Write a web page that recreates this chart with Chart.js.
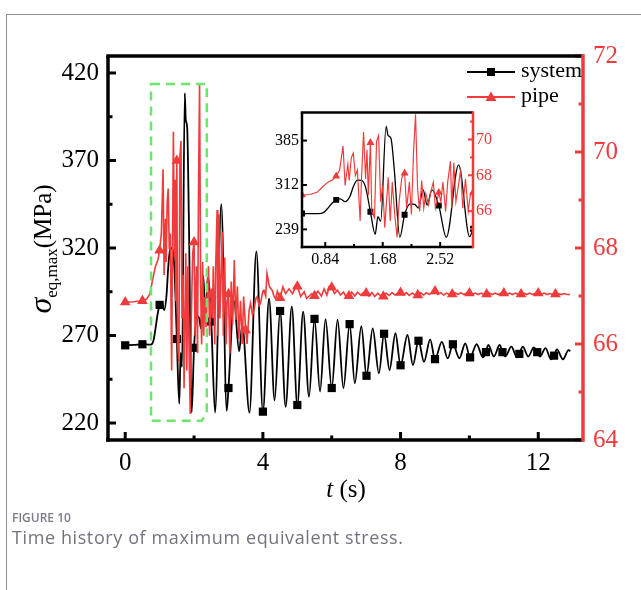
<!DOCTYPE html>
<html>
<head>
<meta charset="utf-8">
<script src="https://cdn.jsdelivr.net/npm/chart.js@4.4.1/dist/chart.umd.min.js"></script>
<style>
  html, body { margin: 0; padding: 0; background: #fff; }
  body { width: 641px; height: 590px; position: relative; overflow: hidden; }
  #frame { position: absolute; left: 6px; top: 14px; width: 700px; height: 700px;
           border-left: 1px solid #8e8ea0; border-top: 1px solid #8e8ea0; }
  #main { position: absolute; left: 0; top: 0; }
  #inset { position: absolute; left: 260px; top: 100px; }
  .fig { position: absolute; left: 12px; top: 509px; font: 600 12px "Open Sans", sans-serif; color: #7b7b88; }
  .cap { position: absolute; left: 12px; top: 525px; font: 400 18px "Open Sans", sans-serif; letter-spacing: 0.6px;
         color: #73737f; white-space: nowrap; }
</style>
</head>
<body>
<div id="frame"></div>
<canvas id="main" width="641" height="520"></canvas>
<canvas id="inset" width="240" height="175"></canvas>
<div class="fig">FIGURE 10</div>
<div class="cap">Time history of maximum equivalent stress.</div>
<script>
// system: maximum equivalent stress (MPa), left axis
const sysT = [0, 0.25, 0.5, 0.74, 0.82, 0.88, 0.94, 1.0, 1.06, 1.13, 1.2, 1.25, 1.31, 1.37, 1.43, 1.5,
  1.57, 1.61, 1.65, 1.73, 1.76, 1.8, 1.85, 1.93, 2.0, 2.08, 2.15, 2.2, 2.27, 2.33, 2.4, 2.5,
  2.61, 2.79, 2.95, 3.0, 3.16, 3.31, 3.4, 3.61, 3.81, 4.0, 4.18, 4.34, 4.5, 4.66, 4.84, 5.0,
  5.17, 5.34, 5.5, 5.66, 5.82, 6.0, 6.17, 6.34, 6.52, 6.67, 6.86, 7.01, 7.19, 7.37, 7.52,
  7.68, 7.85, 8.0, 8.2, 8.36, 8.52, 8.68, 8.86, 9.0, 9.2, 9.37, 9.52, 9.71, 9.88, 10.02,
  10.21, 10.39, 10.48, 10.55, 10.71, 10.88, 10.96, 11.04, 11.22, 11.38, 11.45, 11.55, 11.71,
  11.87, 11.97, 12.05, 12.21, 12.37, 12.46, 12.54, 12.72, 12.88, 12.93];
const sysV = [264.4, 264.6, 265.0, 264.8, 267, 274, 282, 287.5, 289, 284.5, 293, 309, 320, 319.5, 308, 268,
  231, 260, 252, 408.5, 393, 389, 336, 226, 263, 281, 280, 274, 304, 279, 304, 278,
  226, 345, 227, 240, 290, 261, 276, 226, 318, 226.5, 291, 233, 284, 229.3, 286.5, 230.3,
  283.6, 235, 279.5, 238, 279.3, 240, 279, 240, 276.5, 242.7, 275.4, 247, 274, 248.4, 271,
  250.3, 271.3, 253, 270.3, 253.1, 267, 255, 267.8, 256.5, 266.4, 256.9, 265, 257, 265.5, 257.5,
  265, 257.5, 260.5, 264.6, 258, 264.6, 260.5, 258, 263.6, 257.5, 259.5, 263.6, 258,
  263.2, 260.5, 258, 262.8, 256.4, 258.5, 262.1, 256.4, 261.7, 261];
const sysMarkT = [0, 0.5, 1.0, 1.5, 2.0, 2.5, 3.0, 4.0, 4.5, 5.0, 5.5, 6.0, 6.52, 7.01, 7.52, 8.0,
  8.52, 9.0, 9.52, 10.02, 10.48, 10.96, 11.45, 11.97, 12.46];

// pipe: maximum equivalent stress (MPa), right axis
const pipeT = [0, 0.25, 0.5, 0.62, 0.72, 0.8, 0.88, 0.95, 1.0, 1.05, 1.1, 1.13, 1.17, 1.19, 1.22, 1.25,
  1.28, 1.31, 1.35, 1.37, 1.4, 1.43, 1.45, 1.47, 1.5, 1.52, 1.56, 1.59, 1.62, 1.65, 1.68, 1.71,
  1.76, 1.79, 1.82, 1.86, 1.89, 1.92, 1.96, 2.0, 2.03, 2.07, 2.1, 2.13, 2.16, 2.19, 2.22, 2.25,
  2.28, 2.31, 2.35, 2.38, 2.42, 2.45, 2.5, 2.53, 2.56, 2.6, 2.63, 2.67, 2.69, 2.72, 2.75, 2.78,
  2.82, 2.85, 2.89, 2.93, 2.96, 3.0, 3.04, 3.08, 3.12, 3.17, 3.21, 3.26, 3.3, 3.35, 3.4, 3.44,
  3.5, 3.54, 3.6, 3.64, 3.7, 3.74, 3.8, 3.84, 3.89, 3.93, 4.0, 4.03, 4.08, 4.12, 4.19, 4.27,
  4.32, 4.37, 4.42, 4.5, 4.58, 4.66, 4.76, 4.86, 4.93, 5.0, 5.1, 5.2, 5.27, 5.33, 5.42, 5.5,
  5.6, 5.7, 5.78, 5.86, 5.93, 6.0, 6.08, 6.17, 6.25, 6.34, 6.42, 6.5, 6.58, 6.67, 6.75, 6.84,
  6.92, 7.0, 7.08, 7.17, 7.25, 7.34, 7.42, 7.5, 7.58, 7.67, 7.75, 7.84, 7.92, 8.0, 8.08, 8.17,
  8.25, 8.34, 8.42, 8.5, 8.58, 8.67, 8.75, 8.84, 8.92, 9.0, 9.08, 9.17, 9.25, 9.34, 9.42, 9.5,
  9.58, 9.67, 9.75, 9.84, 9.92, 10.0, 10.08, 10.17, 10.25, 10.34, 10.42, 10.5, 10.58, 10.67,
  10.75, 10.84, 10.92, 11.0, 11.08, 11.17, 11.25, 11.34, 11.42, 11.5, 11.58, 11.67, 11.75,
  11.84, 11.92, 12.0, 12.08, 12.17, 12.25, 12.34, 12.42, 12.5, 12.58, 12.67, 12.75, 12.84, 12.92];
const pipeV = [66.87, 66.88, 66.9, 66.93, 67.05, 67.35, 67.62, 67.75, 67.95, 68.3, 69.64, 67.44, 68.61, 67.71, 68.97, 69.24,
  67.98, 68.3, 65.45, 67.8, 70.42, 67.8, 69.42, 66.89, 69.82, 65.99, 65.63, 69.9, 70.23, 66.53, 67.44, 65.08,
  67.89, 65.45, 67.62, 65.63, 64.54, 66.53, 67.89, 68.12, 66.17, 67.62, 65.81, 69.24, 71.41, 67.25, 65.99, 67.71,
  66.17, 66.98, 66.35, 67.04, 67.62, 66.17, 67.04, 66.53, 67.62, 65.99, 67.62, 68.79, 66.17, 68.7, 66.53, 67.25,
  68.34, 66.17, 67.8, 65.99, 66.89, 67.04, 65.8, 67.3, 66.4, 67.75, 66.5, 67.2, 66.1, 66.9, 66.0, 66.99,
  66.29, 66.0, 66.7, 66.85, 66.6, 66.71, 66.95, 66.99, 66.8, 66.85, 67.1, 67.12, 67.0, 67.47, 67.19, 67.12,
  67.0, 66.94, 67.1, 66.96, 67.19, 67.05, 67.15, 67.05, 67.15, 67.2, 66.99, 67.09, 66.95, 66.99, 67.05, 67.0,
  67.1, 67.0, 67.15, 67.02, 67.2, 67.18, 67.05, 67.12, 67.02, 67.08, 66.98, 67.0, 67.08, 67.0, 67.08, 67.02,
  67.07, 67.06, 67.0, 67.07, 66.99, 67.06, 67.0, 66.99, 67.06, 67.01, 67.07, 67.02, 67.06, 67.07, 67.02, 67.07,
  67.01, 67.06, 67.02, 67.02, 67.07, 67.02, 67.07, 67.03, 67.08, 67.1, 67.03, 67.07, 67.02, 67.06, 67.03, 67.04,
  67.07, 67.03, 67.07, 67.03, 67.06, 67.06, 67.03, 67.06, 67.03, 67.06, 67.03, 67.04, 67.06, 67.03,
  67.06, 67.03, 67.06, 67.06, 67.03, 67.06, 67.03, 67.06, 67.03, 67.04, 67.06, 67.03, 67.06,
  67.03, 67.06, 67.06, 67.03, 67.06, 67.03, 67.05, 67.03, 67.04, 67.05, 67.03, 67.05, 67.03, 67.03];
const pipeMarkT = [0, 0.5, 1.0, 1.5, 2.0, 2.5, 3.0, 3.5, 4.5, 5.0, 5.5, 6.0, 6.5, 7.0, 7.5, 8.0,
  8.5, 9.0, 9.5, 10.0, 10.5, 11.0, 11.5, 12.0, 12.5];

// ticks
const xTicks = [0, 4, 8, 12];
const xMinor = [2, 6, 10];
const yTicks = [220, 270, 320, 370, 420];
const yMinor = [245, 295, 345, 395];
const y1Ticks = [64, 66, 68, 70, 72];
const y1Minor = [65, 67, 69, 71];
const inXTicks = [0.84, 1.68, 2.52];
const inXMinor = [1.26, 2.1];
const inYTicks = [239, 312, 385];
const inY1Ticks = [66, 68, 70];
const inY1Minor = [65, 67, 69, 71];

const RED = '#ef3b3b';
const SERIF = '"Liberation Serif", "Times New Roman", serif';

const sysPts = sysT.map((t, i) => ({ x: t, y: sysV[i] }));
const pipePts = pipeT.map((t, i) => ({ x: t, y: pipeV[i] }));
const sysMarks = new Set(sysMarkT);
const pipeMarks = new Set(pipeMarkT);

function makeDatasets(lw, rSq, rTri) {
  return [{
    label: 'pipe', data: pipePts, yAxisID: 'y1', showLine: true, order: 0,
    borderColor: RED, backgroundColor: RED, borderWidth: lw * 0.9, tension: 0,
    pointStyle: 'triangle', pointBorderWidth: 0,
    pointRadius: c => pipeMarks.has(pipeT[c.dataIndex]) ? rTri : 0
  }, {
    label: 'system', data: sysPts, yAxisID: 'y', showLine: true, order: 1,
    borderColor: '#000', backgroundColor: '#000', borderWidth: lw,
    cubicInterpolationMode: 'monotone',
    pointStyle: 'rect', pointBorderWidth: 0,
    pointRadius: c => sysMarks.has(sysT[c.dataIndex]) ? rSq : 0
  }];
}

function setTicks(list) {
  return s => { s.ticks = list.map(v => ({ value: v })); };
}

function line(ctx, x1, y1, x2, y2) {
  ctx.beginPath(); ctx.moveTo(x1, y1); ctx.lineTo(x2, y2); ctx.stroke();
}

function drawAxes(chart, o) {
  const ctx = chart.ctx, a = chart.chartArea;
  const sx = chart.scales.x, sy = chart.scales.y, sy1 = chart.scales.y1;
  ctx.save();
  ctx.lineCap = 'butt';
  ctx.strokeStyle = '#000';
  ctx.lineWidth = o.tw;
  o.xMaj.forEach(v => { const p = sx.getPixelForValue(v); line(ctx, p, a.bottom, p, a.bottom - o.maj); });
  o.xMin.forEach(v => { const p = sx.getPixelForValue(v); line(ctx, p, a.bottom, p, a.bottom - o.min); });
  o.yMaj.forEach(v => { const p = sy.getPixelForValue(v); line(ctx, a.left, p, a.left + o.maj, p); });
  o.yMin.forEach(v => { const p = sy.getPixelForValue(v); line(ctx, a.left, p, a.left + o.min, p); });
  ctx.strokeStyle = RED;
  o.y1Maj.forEach(v => { const p = sy1.getPixelForValue(v); line(ctx, a.right, p, a.right - o.maj, p); });
  o.y1Min.forEach(v => { const p = sy1.getPixelForValue(v); line(ctx, a.right, p, a.right - o.min, p); });
  // frame
  ctx.lineWidth = o.aw;
  ctx.strokeStyle = '#000';
  line(ctx, a.left - o.aw / 2, a.top, a.right, a.top);
  line(ctx, a.left, a.top, a.left, a.bottom + o.aw / 2);
  line(ctx, a.left - o.aw / 2, a.bottom, a.right, a.bottom);
  ctx.strokeStyle = RED;
  line(ctx, a.right, a.top - o.aw / 2, a.right, a.bottom + o.aw / 2);
  ctx.restore();
}

const mainPlugin = {
  id: 'mainDeco',
  afterDraw(chart) {
    const ctx = chart.ctx, sx = chart.scales.x, sy = chart.scales.y;
    drawAxes(chart, { tw: 3, aw: 3.5, maj: 8, min: 4.5,
      xMaj: xTicks, xMin: xMinor, yMaj: yTicks, yMin: yMinor, y1Maj: y1Ticks, y1Min: y1Minor });

    // green dashed box around the zoomed window
    const L = sx.getPixelForValue(0.75), R = sx.getPixelForValue(2.37);
    const T = sy.getPixelForValue(413.7), B = sy.getPixelForValue(221.3);
    const cx = sx.getPixelForValue(2.22), cy = sy.getPixelForValue(225.6);
    ctx.save();
    ctx.strokeStyle = '#6be86b';
    ctx.lineWidth = 2.5;
    ctx.setLineDash([9, 6]);
    ctx.beginPath();
    ctx.moveTo(L, T); ctx.lineTo(R, T); ctx.lineTo(R, cy); ctx.lineTo(cx, B); ctx.lineTo(L, B); ctx.closePath();
    ctx.stroke();
    ctx.restore();

    // legend
    ctx.save();
    ctx.lineWidth = 2;
    ctx.strokeStyle = '#000';
    line(ctx, 467, 72, 515, 72);
    ctx.fillStyle = '#000';
    ctx.fillRect(487, 68, 8, 8);
    ctx.strokeStyle = RED;
    line(ctx, 467, 97, 515, 97);
    ctx.fillStyle = RED;
    ctx.beginPath(); ctx.moveTo(491, 91.5); ctx.lineTo(496.5, 101); ctx.lineTo(485.5, 101); ctx.closePath(); ctx.fill();
    ctx.fillStyle = '#000';
    ctx.font = '22px ' + SERIF;
    ctx.textBaseline = 'middle';
    ctx.fillText('system', 521, 71);
    ctx.fillText('pipe', 521, 96);
    ctx.restore();

    // axis titles
    ctx.save();
    ctx.fillStyle = '#000';
    ctx.textBaseline = 'alphabetic';
    ctx.font = 'italic 25px ' + SERIF;
    const tW = ctx.measureText('t').width;
    ctx.font = '25px ' + SERIF;
    const sW = ctx.measureText(' (s)').width;
    let x0 = 346 - (tW + sW) / 2;
    ctx.font = 'italic 25px ' + SERIF;
    ctx.fillText('t', x0, 497);
    ctx.font = '25px ' + SERIF;
    ctx.fillText(' (s)', x0 + tW, 497);

    ctx.translate(51, 249);
    ctx.rotate(-Math.PI / 2);
    ctx.font = 'italic 32px ' + SERIF;
    const w1 = ctx.measureText('\u03c3').width;
    ctx.font = '17px ' + SERIF;
    const w2 = ctx.measureText('eq,max').width;
    ctx.font = '25px ' + SERIF;
    const w3 = ctx.measureText('(MPa)').width;
    let p = -(w1 + w2 + w3) / 2;
    ctx.font = 'italic 32px ' + SERIF;
    ctx.fillText('\u03c3', p, 0);
    ctx.font = '17px ' + SERIF;
    ctx.fillText('eq,max', p + w1, 6);
    ctx.font = '25px ' + SERIF;
    ctx.fillText('(MPa)', p + w1 + w2, 0);
    ctx.restore();
  }
};

new Chart(document.getElementById('main'), {
  type: 'scatter',
  data: { datasets: makeDatasets(1.8, 5.8, 6.2) },
  options: {
    responsive: false,
    animation: false,
    layout: { padding: { top: 56, left: 0, right: 0, bottom: 0 } },
    plugins: { legend: { display: false }, tooltip: { enabled: false } },
    scales: {
      x: {
        type: 'linear', position: 'bottom', min: -0.5, max: 13.3,
        afterBuildTicks: setTicks(xTicks), afterFit: s => { s.height = 80; },
        grid: { display: false, drawTicks: false }, border: { display: false },
        ticks: { font: { family: SERIF, size: 25 }, color: '#000', padding: 8, maxRotation: 0, autoSkip: false }
      },
      y: {
        type: 'linear', position: 'left', min: 210.3, max: 429.7,
        afterBuildTicks: setTicks(yTicks), afterFit: s => { s.width = 108; },
        grid: { display: false, drawTicks: false }, border: { display: false },
        ticks: { font: { family: SERIF, size: 25 }, color: '#000', padding: 9, autoSkip: false }
      },
      y1: {
        type: 'linear', position: 'right', min: 64, max: 72,
        afterBuildTicks: setTicks(y1Ticks), afterFit: s => { s.width = 58; },
        grid: { display: false, drawTicks: false }, border: { display: false },
        ticks: { font: { family: SERIF, size: 25 }, color: RED, padding: 10, autoSkip: false }
      }
    }
  },
  plugins: [mainPlugin]
});

const insetPlugin = {
  id: 'insetDeco',
  beforeDatasetsDraw(chart) {
    const a = chart.chartArea, ctx = chart.ctx;
    ctx.save();
    ctx.fillStyle = '#fff';
    ctx.fillRect(a.left, a.top, a.right - a.left, a.bottom - a.top);
    ctx.restore();
  },
  afterDraw(chart) {
    drawAxes(chart, { tw: 2, aw: 2.5, maj: 5, min: 3,
      xMaj: inXTicks, xMin: inXMinor, yMaj: inYTicks, yMin: [], y1Maj: inY1Ticks, y1Min: inY1Minor });
  }
};

new Chart(document.getElementById('inset'), {
  type: 'scatter',
  data: { datasets: makeDatasets(1.3, 4.2, 4.6) },
  options: {
    responsive: false,
    animation: false,
    layout: { padding: { top: 8, left: 0, right: 0, bottom: 0 } },
    plugins: { legend: { display: false }, tooltip: { enabled: false } },
    scales: {
      x: {
        type: 'linear', position: 'bottom', min: 0.5, max: 3.0,
        afterBuildTicks: setTicks(inXTicks), afterFit: s => { s.height = 28; },
        grid: { display: false, drawTicks: false }, border: { display: false },
        ticks: { font: { family: SERIF, size: 16 }, color: '#000', padding: 3, maxRotation: 0, autoSkip: false,
                 callback: v => v.toFixed(2) }
      },
      y: {
        type: 'linear', position: 'left', min: 210, max: 431,
        afterBuildTicks: setTicks(inYTicks), afterFit: s => { s.width = 42; },
        grid: { display: false, drawTicks: false }, border: { display: false },
        ticks: { font: { family: SERIF, size: 16 }, color: '#000', padding: 3, autoSkip: false }
      },
      y1: {
        type: 'linear', position: 'right', min: 64, max: 71.5,
        afterBuildTicks: setTicks(inY1Ticks), afterFit: s => { s.width = 27; },
        grid: { display: false, drawTicks: false }, border: { display: false },
        ticks: { font: { family: SERIF, size: 16 }, color: RED, padding: 3, autoSkip: false }
      }
    }
  },
  plugins: [insetPlugin]
});
</script>
</body>
</html>
